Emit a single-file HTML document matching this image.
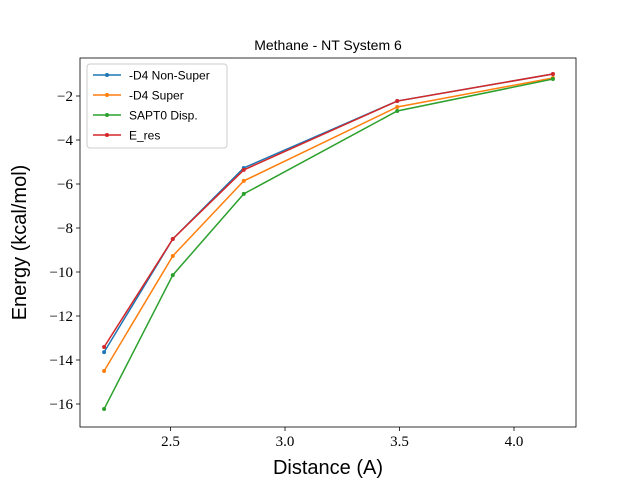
<!DOCTYPE html>
<html><head><meta charset="utf-8"><style>
body{margin:0;background:#fff;}
svg{display:block;font-family:"Liberation Sans",sans-serif;}
</style></head><body>
<svg id="chart" width="640" height="480">
<rect width="640" height="480" fill="#fff"/>
</svg>
<script>
const xs=[2.21,2.51,2.82,3.49,4.17];
const d4NonSuper=[-13.64,-8.5,-5.27,-2.23,-1.0];
const d4Super=[-14.5,-9.27,-5.86,-2.5,-1.18];
const saptDisp=[-16.23,-10.14,-6.45,-2.68,-1.23];
const eRes=[-13.41,-8.5,-5.36,-2.23,-1.0];
const xTicks=[2.5,3.0,3.5,4.0];
const xTickLabels=["2.5","3.0","3.5","4.0"];
const yTicks=[-16,-14,-12,-10,-8,-6,-4,-2];
const yTickLabels=["\u221216","\u221214","\u221212","\u221210","\u22128","\u22126","\u22124","\u22122"];
const seriesNames=["-D4 Non-Super","-D4 Super","SAPT0 Disp.","E_res"];
const seriesColors=["#1f77b4","#ff7f0e","#2ca02c","#d62728"];

const L=80,R=576,T=58,B=427;
const X=v=>170.5+(v-2.5)*229;
const Y=v=>96-(v+2)*22;
const svg=document.getElementById('chart');
const NS="http://www.w3.org/2000/svg";
function mk(tag,attrs,parent){const e=document.createElementNS(NS,tag);for(const k in attrs)e.setAttribute(k,attrs[k]);(parent||svg).appendChild(e);return e;}

const title=mk('text',{x:(L+R)/2,y:50,'text-anchor':'middle','font-size':14});
title.textContent="Methane - NT System 6";



xTicks.forEach((t,i)=>{
  const tk=mk('line',{x1:X(t),x2:X(t),y1:B,y2:B+4,stroke:'#000','stroke-width':0.8});
  
  
  const lb=mk('text',{x:X(t),y:B+19,'text-anchor':'middle','font-size':15,'font-family':'"Liberation Serif",serif'});
  lb.textContent=xTickLabels[i];
  
  
});
yTicks.forEach((t,i)=>{
  const tk=mk('line',{x1:L-4,x2:L,y1:Y(t),y2:Y(t),stroke:'#000','stroke-width':0.8});
  
  
  const lb=mk('text',{x:L-7,y:Y(t)+5,'text-anchor':'end','font-size':15,'font-family':'"Liberation Serif",serif'});
  lb.textContent=yTickLabels[i];
  
  
});

const xt=mk('text',{x:(L+R)/2,y:474,'text-anchor':'middle','font-size':20});
xt.textContent="Distance (A)";


const yt=mk('text',{x:0,y:0,'text-anchor':'middle','font-size':20,transform:`translate(26,${(T+B)/2}) rotate(-90)`});
yt.textContent="Energy (kcal/mol)";



const series=[d4NonSuper,d4Super,saptDisp,eRes];
series.forEach((s,si)=>{
  const g=mk('g',{});
  
  
  const pl=mk('polyline',{points:s.map((v,i)=>X(xs[i])+','+Y(v)).join(' '),fill:'none',stroke:seriesColors[si],'stroke-width':1.5},g);
  
  
  s.forEach((v,i)=>{
    const c=mk('circle',{cx:X(xs[i]),cy:Y(v),r:2,fill:seriesColors[si]},g);
    
    
  });
});

const frame=mk('rect',{x:L,y:T,width:R-L,height:B-T,fill:'none',stroke:'#000','stroke-width':0.8});



const lg=mk('g',{});


mk('rect',{x:87,y:64,width:140,height:84,rx:3,fill:'#fff','fill-opacity':0.8,stroke:'#ccc','stroke-width':1},lg);
seriesNames.forEach((n,i)=>{
  const y=75+i*20;
  const e=mk('g',{},lg);
  
  
  mk('line',{x1:93,x2:121,y1:y,y2:y,stroke:seriesColors[i],'stroke-width':1.5},e);
  mk('circle',{cx:107,cy:y,r:2,fill:seriesColors[i]},e);
  const t=mk('text',{x:129,y:y+4.5,'font-size':12},e);
  t.textContent=n;
});
</script>
</body></html>
